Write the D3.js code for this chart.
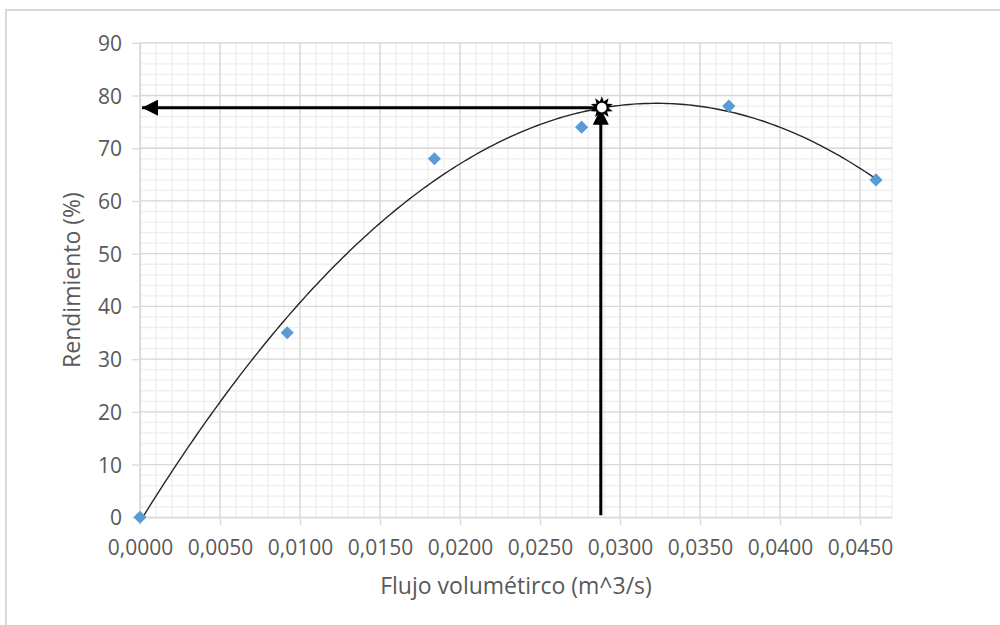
<!DOCTYPE html>
<html>
<head>
<meta charset="utf-8">
<script src="https://cdn.jsdelivr.net/npm/d3@7"></script>
<style>
  html, body { margin: 0; padding: 0; background: #ffffff; }
  svg { display: block; }
  text { font-family: "Open Sans", "Noto Sans", sans-serif; fill: #595959; }
</style>
</head>
<body>
<svg id="chart" width="1000" height="625"></svg>
<script>
// Measured flow rate (m^3/s) and efficiency (%)
const flujo = [0.0000, 0.0092, 0.0184, 0.0276, 0.0368, 0.0460];
const rendimiento = [0, 35, 68, 74, 78, 64];

// Operating point marked on the curve
const puntoOptimo = { x: 0.0288, y: 77.7 };

// Axis ticks
const xTicks = [0, 0.005, 0.010, 0.015, 0.020, 0.025, 0.030, 0.035, 0.040, 0.045];
const yTicks = [0, 10, 20, 30, 40, 50, 60, 70, 80, 90];
const xDomain = [0, 0.047];
const yDomain = [0, 90];

const tituloX = "Flujo volumétirco (m^3/s)";
const tituloY = "Rendimiento (%)";

const svg = d3.select("#chart");

const plot = { left: 140, right: 892, top: 42.8, bottom: 517.3 };
const x = d3.scaleLinear().domain(xDomain).range([plot.left, plot.right]);
const y = d3.scaleLinear().domain(yDomain).range([plot.bottom, plot.top]);

// Outer chart frame
svg.append("rect")
  .attr("x", 6).attr("y", 10)
  .attr("width", 1010).attr("height", 630)
  .attr("fill", "#ffffff")
  .attr("stroke", "#d9d9d9").attr("stroke-width", 2);

// Minor gridlines
const xMinor = d3.range(0, 48).map(i => i * 0.001).filter(v => v <= xDomain[1] + 1e-9);
const yMinor = d3.range(0, 46).map(i => i * 2);
const grid = svg.append("g");
grid.selectAll("line.xm").data(xMinor).join("line")
  .attr("x1", d => x(d)).attr("x2", d => x(d))
  .attr("y1", plot.top).attr("y2", plot.bottom)
  .attr("stroke", "#eeeeee").attr("stroke-width", 1.3);
grid.selectAll("line.ym").data(yMinor).join("line")
  .attr("x1", plot.left).attr("x2", plot.right)
  .attr("y1", d => y(d)).attr("y2", d => y(d))
  .attr("stroke", "#eeeeee").attr("stroke-width", 1.3);

// Major gridlines
grid.selectAll("line.xM").data(xTicks).join("line")
  .attr("x1", d => x(d)).attr("x2", d => x(d))
  .attr("y1", plot.top).attr("y2", plot.bottom)
  .attr("stroke", "#d9d9d9").attr("stroke-width", 1.3);
grid.selectAll("line.yM").data(yTicks).join("line")
  .attr("x1", plot.left).attr("x2", plot.right)
  .attr("y1", d => y(d)).attr("y2", d => y(d))
  .attr("stroke", "#d9d9d9").attr("stroke-width", 1.3);

// Axes
const fmtX = v => d3.format(".4f")(v).replace(".", ",");
const xAxis = d3.axisBottom(x).tickValues(xTicks).tickFormat(fmtX).tickSize(8).tickSizeOuter(0);
const yAxis = d3.axisLeft(y).tickValues(yTicks).tickFormat(d3.format("d")).tickSize(8).tickSizeOuter(0);

const gx = svg.append("g").attr("transform", `translate(0,${plot.bottom})`).call(xAxis);
const gy = svg.append("g").attr("transform", `translate(${plot.left},0)`).call(yAxis);
[gx, gy].forEach(g => {
  g.select(".domain").attr("stroke", "#d9d9d9").attr("stroke-width", 1.3);
  g.selectAll(".tick line").attr("stroke", "#d9d9d9").attr("stroke-width", 1.3);
  g.selectAll(".tick text").attr("font-family", "Open Sans, sans-serif")
    .attr("font-size", 21).attr("fill", "#555555");
});
gx.selectAll(".tick text").attr("dy", null).attr("y", 38);
gy.selectAll(".tick text").attr("x", -18).attr("dy", "0.36em");

// Axis titles
svg.append("text")
  .attr("x", (plot.left + plot.right) / 2).attr("y", 594)
  .attr("text-anchor", "middle").attr("font-size", 23).attr("fill", "#555555")
  .text(tituloX);
svg.append("text")
  .attr("transform", `translate(80,${(plot.top + plot.bottom) / 2}) rotate(-90)`)
  .attr("text-anchor", "middle").attr("font-size", 23).attr("fill", "#555555")
  .text(tituloY);

// Second-order polynomial trendline fitted by least squares
function polyFit2(xs, ys) {
  let s = [0, 0, 0, 0, 0], t = [0, 0, 0];
  xs.forEach((xi, i) => {
    for (let k = 0; k <= 4; k++) s[k] += Math.pow(xi, k);
    for (let k = 0; k <= 2; k++) t[k] += Math.pow(xi, k) * ys[i];
  });
  const M = [[s[0], s[1], s[2], t[0]], [s[1], s[2], s[3], t[1]], [s[2], s[3], s[4], t[2]]];
  for (let i = 0; i < 3; i++) {
    for (let j = i + 1; j < 3; j++) {
      const f = M[j][i] / M[i][i];
      for (let k = i; k < 4; k++) M[j][k] -= f * M[i][k];
    }
  }
  const c = [0, 0, 0];
  for (let i = 2; i >= 0; i--) {
    let v = M[i][3];
    for (let k = i + 1; k < 3; k++) v -= M[i][k] * c[k];
    c[i] = v / M[i][i];
  }
  return c;
}
const coef = polyFit2(flujo, rendimiento);
const xs = d3.range(0, 201).map(i => d3.min(flujo) + (d3.max(flujo) - d3.min(flujo)) * i / 200);
const tendencia = xs.map(v => [v, coef[0] + coef[1] * v + coef[2] * v * v]);

svg.append("path")
  .datum(tendencia)
  .attr("fill", "none")
  .attr("stroke", "#262626").attr("stroke-width", 1.4)
  .attr("d", d3.line().x(d => x(d[0])).y(d => y(d[1])));

// Data markers
const diamond = d3.symbol().type(d3.symbolDiamond2).size(110);
svg.selectAll("path.pt").data(flujo.map((v, i) => [v, rendimiento[i]])).join("path")
  .attr("class", "pt")
  .attr("transform", d => `translate(${x(d[0])},${y(d[1])})`)
  .attr("d", diamond)
  .attr("fill", "#5b9bd5");

// Arrows from the operating point to the axes
const defs = svg.append("defs");
defs.append("marker")
  .attr("id", "punta").attr("viewBox", "0 0 16 16")
  .attr("refX", 16).attr("refY", 8)
  .attr("markerWidth", 16).attr("markerHeight", 16)
  .attr("markerUnits", "userSpaceOnUse")
  .attr("orient", "auto")
  .append("path").attr("d", "M0,0 L16,8 L0,16 Z").attr("fill", "#000");

const px = x(puntoOptimo.x), py = y(puntoOptimo.y);
svg.append("line")
  .attr("x1", px).attr("y1", py)
  .attr("x2", x(0) + 2).attr("y2", py)
  .attr("stroke", "#000").attr("stroke-width", 3)
  .attr("marker-end", "url(#punta)");
svg.append("line")
  .attr("x1", px).attr("y1", y(0) - 2)
  .attr("x2", px).attr("y2", py + 1)
  .attr("stroke", "#000").attr("stroke-width", 3)
  .attr("marker-end", "url(#punta)");

// Sun-shaped marker on the operating point
const rays = 10, rOut = 11.5, rIn = 6.5;
const sunPts = d3.range(rays * 2).map(i => {
  const r = i % 2 === 0 ? rOut : rIn;
  const a = -Math.PI / 2 + i * Math.PI / rays;
  return [r * Math.cos(a), r * Math.sin(a)];
});
const sol = svg.append("g").attr("transform", `translate(${px + 1},${py})`);
sol.append("path").attr("d", d3.line()(sunPts) + "Z").attr("fill", "#000");
sol.append("circle").attr("r", 4.8).attr("fill", "#fff");
</script>
</body>
</html>
